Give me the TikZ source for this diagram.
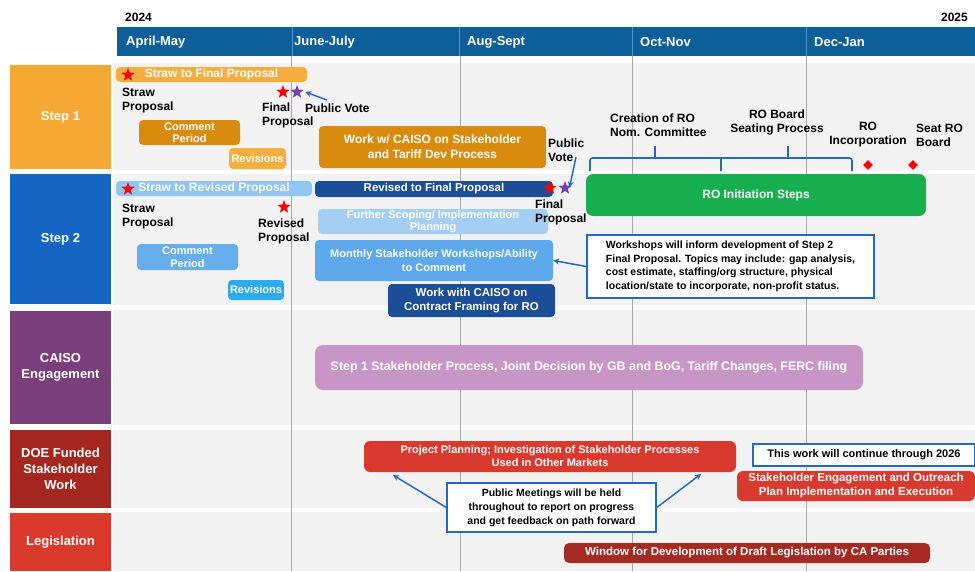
\documentclass[tikz,border=0pt]{standalone}
\usepackage{fontspec}
\setmainfont{Liberation Sans}
\usetikzlibrary{shapes.geometric,arrows.meta}
\definecolor{hdr}{HTML}{0C5F98}
\definecolor{orL}{HTML}{F6AE3E}
\definecolor{orD}{HTML}{D98B0D}
\definecolor{sOne}{HTML}{F5A833}
\definecolor{sTwo}{HTML}{1566C2}
\definecolor{bL}{HTML}{90C4F1}
\definecolor{bD}{HTML}{1B4E96}
\definecolor{bFS}{HTML}{A4CEF4}
\definecolor{bCP}{HTML}{68ADEC}
\definecolor{bMS}{HTML}{5EA8EC}
\definecolor{bRV}{HTML}{2BAAF0}
\definecolor{grn}{HTML}{17AE4F}
\definecolor{cLab}{HTML}{7A3F7A}
\definecolor{lil}{HTML}{C896C6}
\definecolor{dLab}{HTML}{A3261F}
\definecolor{redA}{HTML}{D93A2D}
\definecolor{lLab}{HTML}{D93A2B}
\definecolor{winC}{HTML}{A52B22}
\definecolor{nblue}{HTML}{2369C4}
\definecolor{gbg}{HTML}{F2F2F2}
\definecolor{gline}{HTML}{A8A8A8}
\definecolor{purp}{HTML}{7440A8}
\definecolor{hsep}{HTML}{5A93C0}
\tikzset{
  bar/.style={rounded corners=4pt, text=white, font=\bfseries\fontsize{11}{12.5}\selectfont, align=center, inner sep=0pt},
  note/.style={draw=nblue, line width=1.4pt, fill=white, text=black, rounded corners=0pt, font=\bfseries\fontsize{10.5}{13.5}\selectfont, inner sep=0pt},
  lab/.style={text=white, font=\bfseries\fontsize{13}{16}\selectfont, align=center, inner sep=0pt},
  txt/.style={text=black, font=\bfseries\fontsize{12}{14}\selectfont, align=left, inner sep=0pt, anchor=west},
  ctxt/.style={txt, align=center, anchor=center},
  mon/.style={text=white, font=\bfseries\fontsize{13}{15}\selectfont, inner sep=0pt, anchor=west},
  mstar/.style={star, star points=5, star point ratio=2.4, inner sep=0pt, minimum size=14pt, draw=none},
  mdia/.style={diamond, fill=red, inner sep=0pt, minimum size=10pt},
  arr/.style={draw=nblue, line width=1.5pt, -{Stealth[length=6pt,width=6pt]}},
  gridl/.style={draw=gline, line width=0.8pt},
  bracep/.style={draw=nblue, line width=1.6pt, rounded corners=2.5pt},
}
% #1 style, #2 name, #3 x1, #4 y1, #5 x2, #6 y2, #7 text
\newcommand\gbox[7]{\node[#1, minimum width={(#5)-(#3)}, minimum height={(#6)-(#4)}] (#2) at ({(#3+#5)/2},{(#4+#6)/2}) {#7};}
\begin{document}
\begin{tikzpicture}[x=1pt,y=-1pt]
\useasboundingbox (0,0) rectangle (975,571);
\fill[white] (0,0) rectangle (975,571);
% header
\node[txt, font=\bfseries\fontsize{12}{14}\selectfont] (y24) at (125,17) {2024};
\node[txt, anchor=east, font=\bfseries\fontsize{12}{14}\selectfont] (y25) at (968,17) {2025};
\fill[hdr] (117,27) rectangle (975,56);
\foreach \xx in {292,459,632,806} \draw[hsep, line width=0.6pt] (\xx,27) -- (\xx,56);
\node[mon] (m1) at (126,42) {April-May};
\node[mon] (m2) at (294,42) {June-July};
\node[mon] (m3) at (467,42) {Aug-Sept};
\node[mon] (m4) at (640,42) {Oct-Nov};
\node[mon] (m5) at (814,42) {Dec-Jan};
% row backgrounds
\fill[gbg] (113,63) rectangle (975,170);
\fill[gbg] (113,174) rectangle (975,305);
\fill[gbg] (113,310) rectangle (975,425);
\fill[gbg] (113,430) rectangle (975,508);
\fill[gbg] (113,512) rectangle (975,571);
% gridlines
\draw[gridl] (291,56) -- (291,571);
\foreach \xx in {460,632,806} \draw[gridl] (\xx,56) -- (\xx,571);
% row labels
\gbox{lab,fill=sOne}{L1}{10}{65}{111}{169}{Step 1}
\gbox{lab,fill=sTwo}{L2}{10}{174}{111}{304}{Step 2}
\gbox{lab,fill=cLab}{L3}{10}{311}{111}{424}{CAISO\\Engagement}
\gbox{lab,fill=dLab}{L4}{10}{430}{111}{508}{DOE Funded\\Stakeholder\\Work}
\gbox{lab,fill=lLab}{L5}{10}{513}{111}{571}{Legislation}
% ---- Step 1
\gbox{bar,fill=orL,font=\bfseries\fontsize{12}{14}\selectfont}{sfp}{116}{67}{307}{82}{Straw to Final Proposal}
\gbox{bar,fill=orD}{cp1}{139}{120}{240}{145}{Comment\\Period}
\gbox{bar,fill=orL}{rev1}{229}{148}{286}{169}{Revisions}
\gbox{bar,fill=orD,font=\bfseries\fontsize{12}{15}\selectfont}{work1}{319}{126}{546}{168}{Work w/ CAISO on Stakeholder\\and Tariff Dev Process}
\node[mstar, fill=red] (s1a) at (128,75) {};
\node[mstar, fill=red] (s1b) at (283,92) {};
\node[mstar, fill=purp] (s1c) at (297,92) {};
\node[txt] (sp1) at (122,101) {Straw\\Proposal};
\node[txt] (fp1) at (262,115) {Final\\Proposal};
\node[txt] (pv1) at (305,108) {Public Vote};
\coordinate (pv1t) at (327,100);
\draw[arr] (pv1t) -- ([xshift=4pt]s1c.east);
\node[txt] (pv2) at (548,150) {Public\\Vote};
\coordinate (pv2t) at (576,157);
% ---- Step 2
\gbox{bar,fill=bL,font=\bfseries\fontsize{12}{14}\selectfont}{srp}{116}{181}{312}{196}{Straw to Revised Proposal}
\gbox{bar,fill=bD,font=\bfseries\fontsize{11.5}{14}\selectfont}{rfp}{315}{181}{553}{197}{Revised to Final Proposal}
\gbox{bar,fill=bFS,font=\bfseries\fontsize{11}{12}\selectfont}{fsp}{318}{209}{548}{234}{Further Scoping/ Implementation\\Planning}
\gbox{bar,fill=bCP}{cp2}{137}{244}{238}{270}{Comment\\Period}
\gbox{bar,fill=bMS,font=\bfseries\fontsize{11}{14}\selectfont}{msw}{315}{240}{553}{281}{Monthly Stakeholder Workshops/Ability\\to Comment}
\gbox{bar,fill=bRV}{rev2}{228}{280}{284}{300}{Revisions}
\gbox{bar,fill=bD,font=\bfseries\fontsize{11.5}{14}\selectfont}{wcc}{388}{284}{555}{317}{Work with CAISO on\\Contract Framing for RO}
\node[mstar, fill=red] (s2a) at (128,189) {};
\node[mstar, fill=red] (s2b) at (284,207) {};
\node[mstar, fill=red] (s2c) at (550,188) {};
\node[mstar, fill=purp] (s2d) at (565,188) {};
\draw[arr] (pv2t) -- ([xshift=2pt,yshift=-2pt]s2d.north east);
\node[txt] (sp2) at (122,217) {Straw\\Proposal};
\node[txt] (rp2) at (258,231) {Revised\\Proposal};
\node[txt] (fp2) at (535,212) {Final\\Proposal};
\gbox{bar,fill=grn,rounded corners=7pt,font=\bfseries\fontsize{12}{14}\selectfont}{ro}{586}{174}{926}{216}{RO Initiation Steps}
\gbox{note,align=left}{ws}{587}{235}{874}{298}{Workshops will inform development of Step 2\\Final Proposal. Topics may include: gap analysis,\\cost estimate, staffing/org structure, physical\\location/state to incorporate, non-profit status.}
\draw[arr] (ws.west) -- (msw.east);
% braces
\draw[bracep] (590,171) -- (590,158) -- (852,158) -- (852,171);
\draw[bracep] (655,158) -- (655,146);
\draw[bracep] (788,158) -- (788,146);
\draw[bracep] (721,158) -- (721,171);
\node[txt] (cro) at (610,125) {Creation of RO\\Nom. Committee};
\node[ctxt] (rbs) at (777,122) {RO Board\\Seating Process};
\node[ctxt] (roi) at (868,135) {RO\\Incorporation};
\node[txt] (srb) at (916,135) {Seat RO\\Board};
\node[mdia] (d1) at (868,165) {};
\node[mdia] (d2) at (913,165) {};
% ---- CAISO
\gbox{bar,fill=lil,rounded corners=8pt,font=\bfseries\fontsize{12.4}{15}\selectfont}{caiso}{315}{345}{863}{390}{Step 1 Stakeholder Process, Joint Decision by GB and BoG, Tariff Changes, FERC filing}
% ---- DOE
\gbox{bar,fill=redA,rounded corners=6pt,font=\bfseries\fontsize{11}{13}\selectfont}{pp}{364}{441}{736}{472}{Project Planning; Investigation of Stakeholder Processes\\Used in Other Markets}
\gbox{note,font=\bfseries\fontsize{11}{13}\selectfont}{cont}{753}{444}{975}{466}{This work will continue through 2026}
\gbox{bar,fill=redA,rounded corners=6pt,font=\bfseries\fontsize{11.5}{14}\selectfont}{seo}{737}{471}{975}{501}{Stakeholder Engagement and Outreach\\Plan Implementation and Execution}
\gbox{note,align=center,font=\bfseries\fontsize{10.5}{14}\selectfont}{pm}{447}{483}{656}{532}{Public Meetings will be held\\throughout to report on progress\\and get feedback on path forward}
\coordinate (ppa) at (393,475);
\coordinate (ppb) at (701,474);
\draw[arr] (pm.west) -- (ppa);
\draw[arr] (pm.east) -- (ppb);
% ---- Legislation
\gbox{bar,fill=winC,rounded corners=5pt,font=\bfseries\fontsize{11.5}{14}\selectfont}{win}{564}{543}{930}{563}{Window for Development of Draft Legislation by CA Parties}
\end{tikzpicture}
\end{document}
